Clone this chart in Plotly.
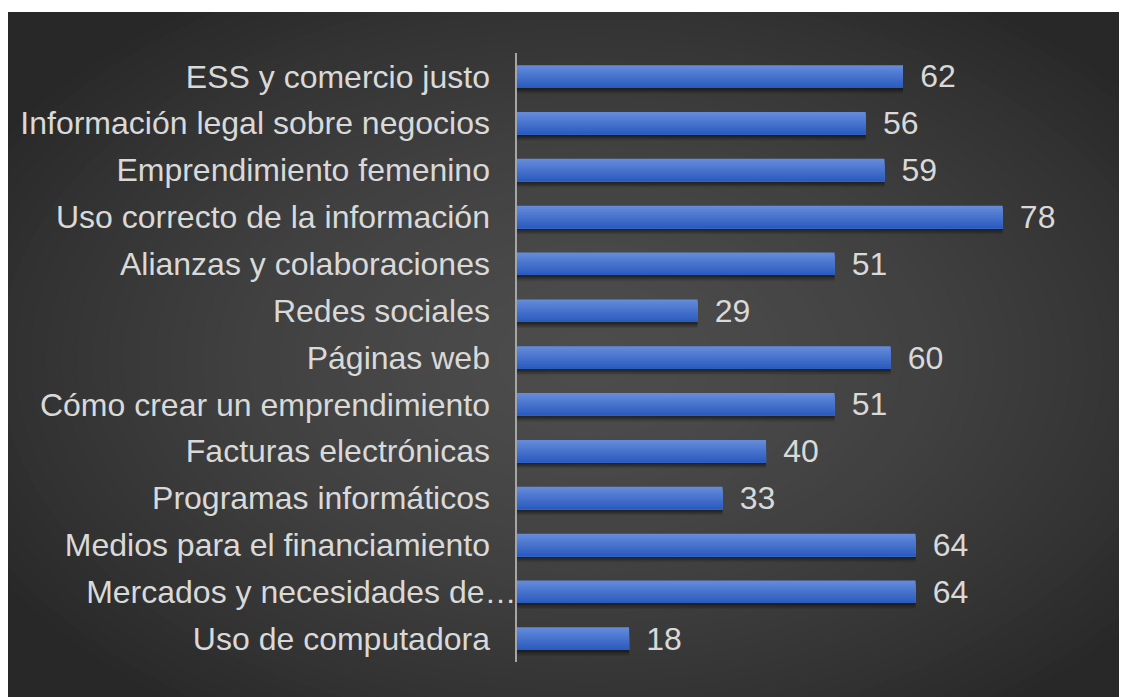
import plotly.graph_objects as go

categories = [
    "ESS y comercio justo",
    "Información legal sobre negocios",
    "Emprendimiento femenino",
    "Uso correcto de la información",
    "Alianzas y colaboraciones",
    "Redes sociales",
    "Páginas web",
    "Cómo crear un emprendimiento",
    "Facturas electrónicas",
    "Programas informáticos",
    "Medios para el financiamiento",
    "Mercados y necesidades de…",
    "Uso de computadora",
]
values = [62, 56, 59, 78, 51, 29, 60, 51, 40, 33, 64, 64, 18]

# page body has an 8px margin, so the figure is sized to fit the window exactly
W, H = 1119, 689
ML, MR, MT, MB = 509, 10, 45, 35
PW, PH = W - ML - MR, H - MT - MB
PX_PER_UNIT = 6.226
XMAX = PW / PX_PER_UNIT

FONT = "Liberation Sans, Arial, sans-serif"
TXT = "#d9d9d9"
FS = 32

BAR_W = 0.48

# the truncated label runs up to the axis; the others keep a gap
tick_text = [c if c.endswith("…") else c + "\u00a0\u00a0\u00a0" for c in categories]


def px2paper_x(px):
    return (px - ML) / PW


def px2paper_y(py):
    return 1 - (py - MT) / PH


def hexlerp(c1, c2, t):
    a = [int(c1[i:i + 2], 16) for i in (1, 3, 5)]
    b = [int(c2[i:i + 2], 16) for i in (1, 3, 5)]
    return "#" + "".join(f"{round(a[k] + (b[k] - a[k]) * t):02x}" for k in range(3))


fig = go.Figure()

# drop shadow under bars
for dy, op in [(0.13, 0.12), (0.10, 0.18), (0.07, 0.25), (0.04, 0.3)]:
    fig.add_trace(go.Bar(
        y=categories, x=values, orientation="h",
        width=BAR_W, offset=-BAR_W / 2 + dy,
        marker=dict(color=f"rgba(15,15,15,{op})", line=dict(width=0)),
        hoverinfo="skip", showlegend=False,
    ))

# gradient bar (top light -> bottom dark), each strip runs to the bar bottom
N = 14
top_c, bot_c = "#648bda", "#2c5cbf"
for i in range(N):
    t = i / (N - 1)
    fig.add_trace(go.Bar(
        y=categories, x=values, orientation="h",
        width=BAR_W - i * BAR_W / N, offset=-BAR_W / 2 + i * BAR_W / N,
        marker=dict(color=hexlerp(top_c, bot_c, t), line=dict(width=0)),
        hoverinfo="skip" if i else None, showlegend=False,
    ))

# value labels
fig.add_trace(go.Bar(
    y=categories, x=values, orientation="h",
    width=BAR_W, offset=-BAR_W / 2,
    marker=dict(color="rgba(0,0,0,0)", line=dict(width=0)),
    text=[f" \u2006{v}" for v in values], textposition="outside",
    constraintext="none", cliponaxis=False,
    textfont=dict(family=FONT, size=FS, color=TXT),
    hoverinfo="skip", showlegend=False,
))

# radial gradient background
shapes = []
shapes.append(dict(type="rect", xref="paper", yref="paper",
                   x0=px2paper_x(-20), x1=px2paper_x(W + 20),
                   y0=px2paper_y(H + 20), y1=px2paper_y(4),
                   fillcolor="#282828", line=dict(width=0), layer="below"))
cx, cy = 582, 352
RX, RY = 700, 440
edge, center = "#282828", "#4c4c4c"
steps = 45
for s in range(steps):
    k = 1 - s / steps
    t = 1 - k ** 1.6
    col = hexlerp(edge, center, t)
    rx, ry = RX * k, RY * k
    shapes.append(dict(type="circle", xref="paper", yref="paper",
                       x0=px2paper_x(cx - rx), x1=px2paper_x(cx + rx),
                       y0=px2paper_y(cy + ry), y1=px2paper_y(cy - ry),
                       fillcolor=col, line=dict(width=0), layer="below"))
# white strip on top
shapes.append(dict(type="rect", xref="paper", yref="paper",
                   x0=px2paper_x(-50), x1=px2paper_x(W + 50),
                   y0=px2paper_y(4), y1=px2paper_y(-50),
                   fillcolor="white", line=dict(width=0), layer="below"))

fig.update_layout(
    width=W, height=H,
    margin=dict(l=ML, r=MR, t=MT, b=MB, pad=0),
    paper_bgcolor="white",
    plot_bgcolor="rgba(0,0,0,0)",
    barmode="overlay",
    showlegend=False,
    shapes=shapes,
    font=dict(family=FONT, size=FS, color=TXT),
    xaxis=dict(range=[0, XMAX], showgrid=False, zeroline=False, showticklabels=False,
               showline=False, fixedrange=True),
    yaxis=dict(autorange="reversed", showgrid=False, zeroline=False,
               showline=True, linecolor="#a6a6a6", linewidth=2,
               ticks="", ticklabelstandoff=-8,
               tickmode="array", tickvals=categories, ticktext=tick_text,
               tickfont=dict(family=FONT, size=FS, color=TXT)),
)

fig.write_html("out.html")
